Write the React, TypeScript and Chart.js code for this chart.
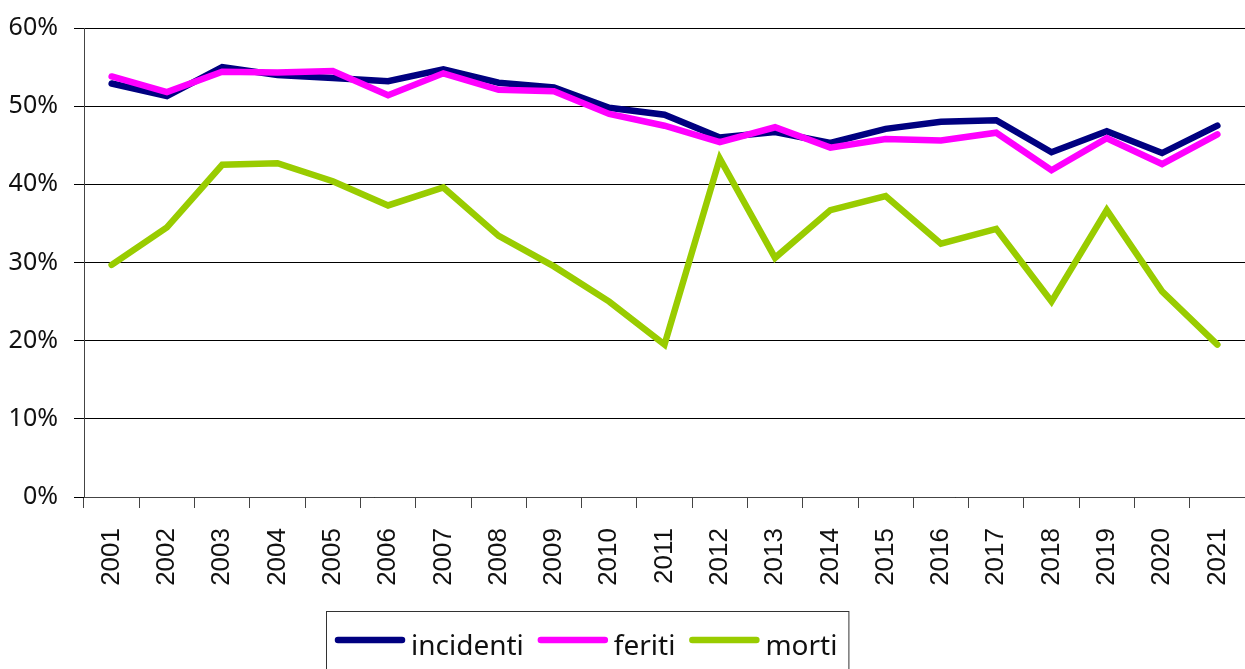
import React, { useEffect, useRef } from "react";
import { Chart, registerables } from "chart.js";

Chart.register(...registerables);

const years = [
  "2001", "2002", "2003", "2004", "2005", "2006", "2007", "2008", "2009", "2010",
  "2011", "2012", "2013", "2014", "2015", "2016", "2017", "2018", "2019", "2020", "2021",
];
const incidenti = [52.9, 51.3, 55.0, 54.0, 53.6, 53.2, 54.7, 53.0, 52.4, 49.8, 48.9, 46.0, 46.7, 45.3, 47.1, 48.0, 48.2, 44.1, 46.8, 44.0, 47.5];
const feriti = [53.8, 51.8, 54.4, 54.3, 54.5, 51.4, 54.2, 52.1, 51.9, 49.0, 47.5, 45.4, 47.3, 44.7, 45.8, 45.6, 46.6, 41.8, 45.9, 42.6, 46.4];
const morti = [29.7, 34.5, 42.5, 42.7, 40.4, 37.3, 39.6, 33.4, 29.5, 25.0, 19.5, 43.3, 30.6, 36.7, 38.5, 32.4, 34.3, 25.0, 36.7, 26.3, 19.5];
const seriesNames = ["incidenti", "feriti", "morti"];
const seriesColors = ["#000080", "#FF00FF", "#99CC00"];
const yMin = 0;
const yMax = 60;
const yStep = 10;

const boxLegend = {
  id: "boxLegend",
  afterDraw(chart: any) {
    const ctx = chart.ctx as CanvasRenderingContext2D;
    ctx.save();
    ctx.font = '28px "Noto Sans"';
    const boxLeft = 326;
    const boxTop = 611;
    const midY = 640;
    let x = boxLeft + 9;
    chart.data.datasets.forEach((ds: any) => {
      ctx.strokeStyle = ds.borderColor;
      ctx.lineWidth = 6.5;
      ctx.lineCap = "round";
      ctx.beginPath();
      ctx.moveTo(x + 3, midY);
      ctx.lineTo(x + 67, midY);
      ctx.stroke();
      ctx.fillStyle = "#111";
      ctx.textBaseline = "alphabetic";
      ctx.textAlign = "left";
      ctx.fillText(ds.label, x + 76, 655);
      x += 76 + ctx.measureText(ds.label).width + 14;
    });
    const right = x - 14 + 11;
    ctx.lineWidth = 1;
    ctx.strokeStyle = "#333";
    ctx.strokeRect(boxLeft + 0.5, boxTop + 0.5, right - boxLeft, 120);
    ctx.restore();
  },
};

export default function App() {
  const ref = useRef<HTMLCanvasElement | null>(null);
  useEffect(() => {
    if (!ref.current) return;
    const values = [incidenti, feriti, morti];
    const chart = new Chart(ref.current, {
      type: "line",
      data: {
        labels: years,
        datasets: seriesNames.map((name, i) => ({
          label: name,
          data: values[i],
          borderColor: seriesColors[i],
          backgroundColor: seriesColors[i],
          borderWidth: 6.5,
          borderCapStyle: "round",
          pointRadius: 0,
          tension: 0,
          fill: false,
          order: [2, 1, 0][i],
        })),
      },
      options: {
        responsive: false,
        animation: false,
        devicePixelRatio: 1,
        layout: { padding: { top: 28, left: 0, right: 0, bottom: 0 } },
        plugins: {
          legend: { display: false },
          tooltip: { enabled: false },
        },
        scales: {
          x: {
            offset: true,
            grid: {
              offset: true,
              drawOnChartArea: false,
              drawTicks: true,
              tickLength: 11,
              color: "#444",
            },
            border: { color: "#444", width: 1 },
            ticks: {
              autoSkip: false,
              minRotation: 90,
              maxRotation: 90,
              padding: 20,
              color: "#111",
              font: { family: "Liberation Sans", size: 26 },
            },
            afterFit: (s: any) => {
              s.height = 172;
              s.paddingLeft = 0;
              s.paddingRight = 0;
            },
          },
          y: {
            min: yMin,
            max: yMax,
            ticks: {
              stepSize: yStep,
              padding: 16,
              color: "#111",
              font: { family: "Noto Sans", size: 25 },
              callback: (v: any) => v + "%",
            },
            grid: { color: "#000", lineWidth: 1, tickLength: 10 },
            border: { color: "#444", width: 1 },
            afterFit: (s: any) => {
              s.width = 84;
              s.paddingTop = 0;
              s.paddingBottom = 0;
            },
          },
        },
      },
      plugins: [boxLegend],
    });
    return () => chart.destroy();
  }, []);
  return (
    <div style={{ position: "fixed", left: 0, top: 0, width: 1245, height: 669, background: "#fff" }}>
      <canvas ref={ref} width={1245} height={669} style={{ display: "block" }} />
    </div>
  );
}
